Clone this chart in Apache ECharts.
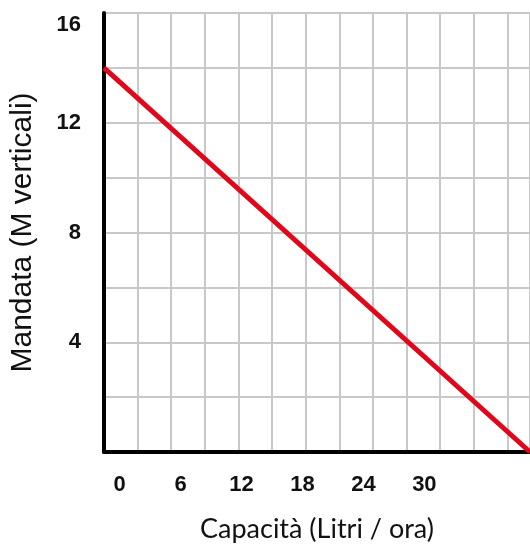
<!DOCTYPE html>
<html>
<head>
<meta charset="utf-8">
<script src="https://cdn.jsdelivr.net/npm/echarts@6/dist/echarts.min.js"></script>
<style>
html,body{margin:0;padding:0;background:#fff;}
#chart{width:530px;height:548px;}
</style>
</head>
<body>
<div id="chart"></div>
<script>
// Data
var capacity = [-1.54, 40.4];      // Litri / ora (line spans full plot width)
var head = [14, 0];                // Mandata (M verticali)
var xTickLabels = [0, 6, 12, 18, 24, 30];
var yTickLabels = [4, 8, 12, 16];
var xName = 'Capacità (Litri / ora)';
var yName = 'Mandata (M verticali)';

var chart = echarts.init(document.getElementById('chart'), null, {renderer: 'canvas'});
var gridColor = '#c8c8c8';
var option = {
  animation: false,
  backgroundColor: '#ffffff',
  grid: {left: 103, right: 0, top: 13, bottom: 96, containLabel: false},
  xAxis: [
    {
      // grid-line axis
      type: 'value', min: 0, max: 12.67, interval: 1,
      axisLine: {show: false}, axisTick: {show: false}, axisLabel: {show: false},
      splitLine: {show: true, lineStyle: {color: gridColor, width: 2}}
    },
    {
      // capacity axis
      type: 'value', position: 'bottom', min: -1.54, max: 40.4,
      name: xName, nameLocation: 'middle', nameGap: 64,
      nameTextStyle: {fontFamily: 'Lato', fontSize: 27, color: '#111'},
      axisLine: {show: true, onZero: false, lineStyle: {color: '#000', width: 4}},
      axisTick: {show: false},
      splitLine: {show: false},
      axisLabel: {
        margin: 22, fontFamily: 'Liberation Sans', fontWeight: 'bold', fontSize: 22, color: '#111',
        customValues: xTickLabels,
        formatter: function (v) { return String(v); }
      }
    }
  ],
  yAxis: {
    type: 'value', min: 0, max: 16, interval: 2,
    name: yName, nameLocation: 'middle', nameGap: 66,
    nameTextStyle: {fontFamily: 'Liberation Sans', fontSize: 30, color: '#111'},
    axisLine: {show: true, onZero: false, lineStyle: {color: '#000', width: 4}},
    axisTick: {show: false},
    splitLine: {show: true, lineStyle: {color: gridColor, width: 2}},
    axisLabel: {
      margin: 23, fontFamily: 'Liberation Sans', fontWeight: 'bold', fontSize: 22, color: '#111',
      formatter: function (v) {
        if (yTickLabels.indexOf(v) < 0) return '';
        if (v === 16) return '{top|' + v + '}';
        return String(v);
      },
      rich: {
        top: {fontFamily: 'Liberation Sans', fontWeight: 'bold', fontSize: 22, color: '#111', padding: [24, 0, 0, 0]}
      }
    }
  },
  series: [{
    type: 'line',
    xAxisIndex: 1,
    data: capacity.map(function (c, i) { return [c, head[i]]; }),
    symbol: 'none',
    lineStyle: {color: '#e2061b', width: 5},
    clip: false
  }]
};
chart.setOption(option);
</script>
</body>
</html>
